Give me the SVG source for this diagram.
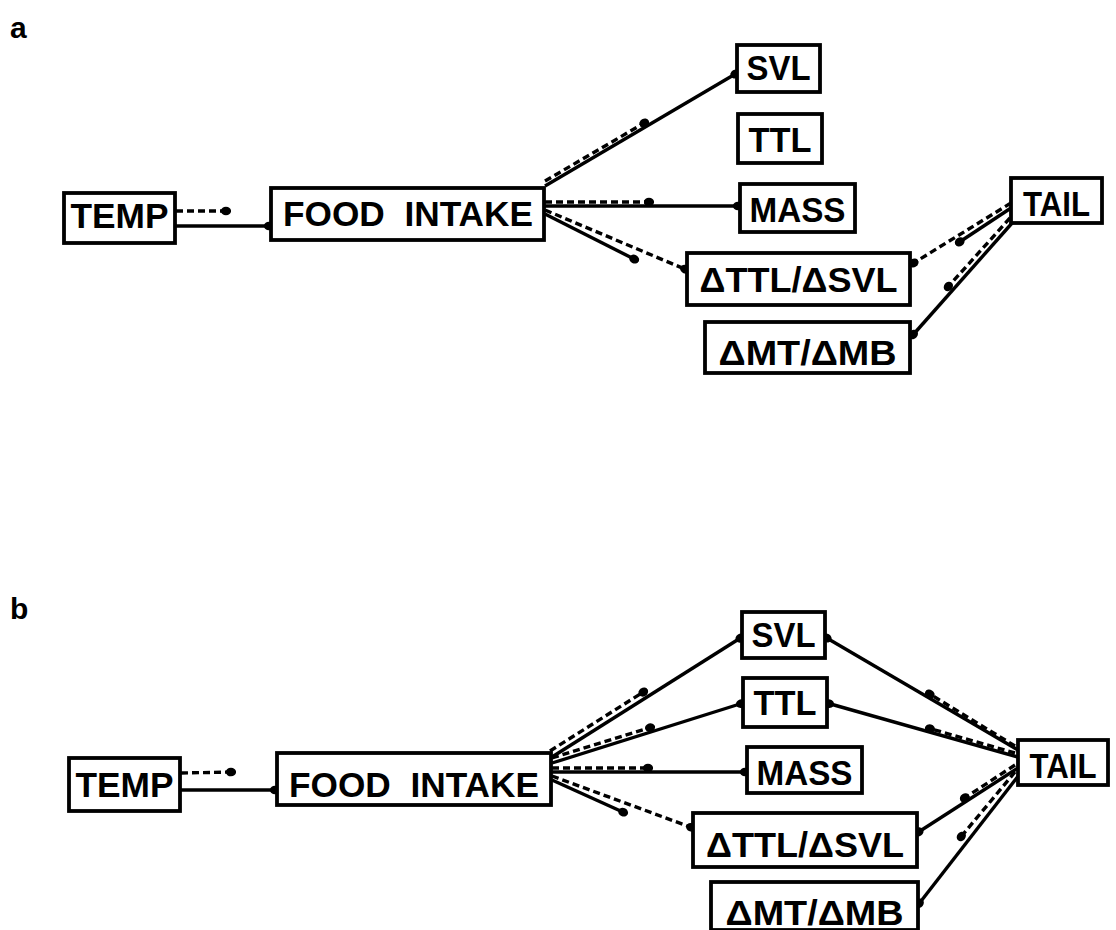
<svg xmlns="http://www.w3.org/2000/svg" width="1116" height="930" viewBox="0 0 1116 930">
<style>
.box{fill:#fff;stroke:#000;stroke-width:3.8}
.t{font-family:"Liberation Sans",Arial,sans-serif;font-weight:bold;font-size:35px;fill:#000;text-anchor:middle}
.lab{font-family:"Liberation Sans",Arial,sans-serif;font-weight:bold;font-size:30px;fill:#000}
.s{fill:none;stroke:#000;stroke-width:3.4;marker-end:url(#dot)}
.d{fill:none;stroke:#000;stroke-width:3.4;stroke-dasharray:7 4;marker-end:url(#dot)}
</style>
<defs>
<marker id="dot" viewBox="0 0 10 10" refX="7" refY="5" markerWidth="3" markerHeight="3" orient="auto" markerUnits="strokeWidth">
<ellipse cx="5" cy="5" rx="5" ry="4.2" fill="#000"/>
</marker>
</defs>
<rect width="1116" height="930" fill="#fff"/>
<text class="lab" x="10" y="38">a</text>
<text class="lab" x="10" y="619">b</text>

<g id="connectors">
<!-- panel a -->
<line class="d" x1="176" y1="211" x2="228" y2="211"/>
<line class="s" x1="176" y1="226" x2="271" y2="226"/>
<line class="s" x1="545" y1="186" x2="737" y2="73"/>
<line class="d" x1="545" y1="181" x2="646" y2="122"/>
<line class="s" x1="545" y1="206" x2="740" y2="206"/>
<line class="d" x1="545" y1="202" x2="651" y2="202"/>
<line class="d" x1="545" y1="210" x2="687" y2="270"/>
<line class="s" x1="545" y1="214" x2="636" y2="260"/>
<line class="d" x1="1011" y1="203" x2="912" y2="264"/>
<line class="s" x1="1011" y1="208" x2="958" y2="243"/>
<line class="s" x1="1013" y1="222" x2="912" y2="336"/>
<line class="d" x1="1010" y1="218" x2="947" y2="288"/>
<!-- panel b -->
<line class="d" x1="181" y1="773" x2="233" y2="772"/>
<line class="s" x1="181" y1="790" x2="277" y2="790"/>
<line class="s" x1="552" y1="757" x2="742" y2="637"/>
<line class="d" x1="550" y1="751" x2="645" y2="691"/>
<line class="s" x1="552" y1="763" x2="743" y2="703"/>
<line class="d" x1="552" y1="758" x2="652" y2="727"/>
<line class="s" x1="552" y1="772" x2="747" y2="772"/>
<line class="d" x1="552" y1="768" x2="650" y2="768"/>
<line class="d" x1="552" y1="776" x2="693" y2="828"/>
<line class="s" x1="552" y1="780" x2="625" y2="813"/>
<line class="s" x1="1018" y1="750" x2="825" y2="637"/>
<line class="d" x1="1015" y1="746" x2="928" y2="693"/>
<line class="s" x1="1018" y1="757" x2="827" y2="703"/>
<line class="d" x1="1015" y1="753" x2="928" y2="728"/>
<line class="s" x1="1018" y1="768" x2="917" y2="833"/>
<line class="d" x1="1015" y1="765" x2="963" y2="799"/>
<line class="s" x1="1019" y1="775" x2="918" y2="905"/>
<line class="d" x1="1015" y1="772" x2="960" y2="838"/>
</g>

<!-- panel a nodes -->
<g id="a-temp"><rect class="box" x="64" y="193" width="111" height="50"/><text class="t" x="119.5" y="228" textLength="98" lengthAdjust="spacingAndGlyphs">TEMP</text></g>
<g id="a-food"><rect class="box" x="271" y="188" width="273" height="52"/><text class="t" x="408" y="226" textLength="250" lengthAdjust="spacingAndGlyphs" xml:space="preserve">FOOD  INTAKE</text></g>
<g id="a-svl"><rect class="box" x="737" y="45" width="83" height="47"/><text class="t" x="778.5" y="80" textLength="64" lengthAdjust="spacingAndGlyphs">SVL</text></g>
<g id="a-ttl"><rect class="box" x="738" y="114" width="84" height="49"/><text class="t" x="780" y="152" textLength="63" lengthAdjust="spacingAndGlyphs">TTL</text></g>
<g id="a-mass"><rect class="box" x="740" y="184" width="115" height="48"/><text class="t" x="797.5" y="222" textLength="96" lengthAdjust="spacingAndGlyphs">MASS</text></g>
<g id="a-dttl"><rect class="box" x="687" y="253" width="223" height="52"/><text class="t" x="798.5" y="292" textLength="198" lengthAdjust="spacingAndGlyphs">ΔTTL/ΔSVL</text></g>
<g id="a-dmt"><rect class="box" x="705" y="322" width="205" height="51"/><text class="t" x="807.5" y="365" textLength="178" lengthAdjust="spacingAndGlyphs">ΔMT/ΔMB</text></g>
<g id="a-tail"><rect class="box" x="1011" y="178" width="91" height="45"/><text class="t" x="1056.5" y="216" font-size="33" textLength="67" lengthAdjust="spacingAndGlyphs">TAIL</text></g>

<!-- panel b nodes -->
<g id="b-temp"><rect class="box" x="69" y="758" width="111" height="53"/><text class="t" x="124.5" y="797" textLength="98" lengthAdjust="spacingAndGlyphs">TEMP</text></g>
<g id="b-food"><rect class="box" x="277" y="753" width="274" height="52"/><text class="t" x="414" y="797" textLength="250" lengthAdjust="spacingAndGlyphs" xml:space="preserve">FOOD  INTAKE</text></g>
<g id="b-svl"><rect class="box" x="742" y="612" width="83" height="46"/><text class="t" x="783.5" y="647" textLength="64" lengthAdjust="spacingAndGlyphs">SVL</text></g>
<g id="b-ttl"><rect class="box" x="743" y="678" width="84" height="49"/><text class="t" x="785" y="715" textLength="63" lengthAdjust="spacingAndGlyphs">TTL</text></g>
<g id="b-mass"><rect class="box" x="747" y="747" width="115" height="46"/><text class="t" x="804.5" y="785" textLength="96" lengthAdjust="spacingAndGlyphs">MASS</text></g>
<g id="b-dttl"><rect class="box" x="693" y="813" width="224" height="54"/><text class="t" x="805" y="857" textLength="198" lengthAdjust="spacingAndGlyphs">ΔTTL/ΔSVL</text></g>
<g id="b-dmt"><rect class="box" x="711" y="882" width="207" height="48"/><text class="t" x="814.5" y="925" textLength="178" lengthAdjust="spacingAndGlyphs">ΔMT/ΔMB</text></g>
<g id="b-tail"><rect class="box" x="1018" y="740" width="90" height="45"/><text class="t" x="1063" y="778" font-size="33" textLength="67" lengthAdjust="spacingAndGlyphs">TAIL</text></g>
</svg>
